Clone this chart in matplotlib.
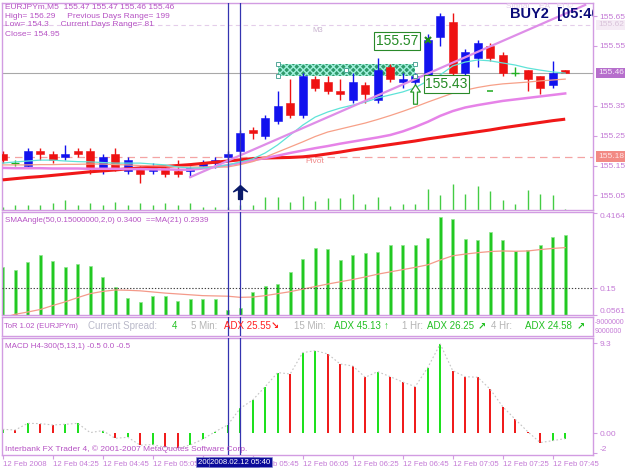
import matplotlib
matplotlib.use('Agg')
import matplotlib.pyplot as plt
from matplotlib.path import Path
from matplotlib.patches import Rectangle
import matplotlib.transforms as mtrans

W, H = 625, 469
plt.rcParams['font.family'] = ['Liberation Sans', 'DejaVu Sans']

# ---------------- data ----------------
bars = list(range(46))
opens = [155.19, 155.16, 155.15, 155.20, 155.19, 155.18, 155.20, 155.20, 155.14, 155.19,
         155.13, 155.14, 155.13, 155.14, 155.13, 155.13, 155.15, 155.16, 155.18, 155.20,
         155.27, 155.25, 155.30, 155.36, 155.32, 155.44, 155.43, 155.40, 155.37, 155.42,
         155.37, 155.48, 155.43, 155.43, 155.43, 155.58, 155.63, 155.46, 155.51, 155.55,
         155.52, 155.46, 155.47, 155.45, 155.42, 155.47]
highs = [155.20, 155.17, 155.21, 155.21, 155.20, 155.22, 155.21, 155.21, 155.19, 155.21,
         155.18, 155.15, 155.16, 155.15, 155.17, 155.15, 155.17, 155.18, 155.20, 155.27,
         155.28, 155.32, 155.40, 155.44, 155.46, 155.45, 155.45, 155.44, 155.46, 155.43,
         155.51, 155.49, 155.46, 155.46, 155.59, 155.66, 155.66, 155.54, 155.57, 155.56,
         155.53, 155.48, 155.47, 155.45, 155.50, 155.47]
lows = [155.16, 155.15, 155.14, 155.17, 155.16, 155.17, 155.18, 155.12, 155.12, 155.13,
        155.12, 155.09, 155.12, 155.11, 155.11, 155.11, 155.14, 155.14, 155.17, 155.19,
        155.24, 155.24, 155.29, 155.31, 155.31, 155.40, 155.39, 155.37, 155.36, 155.36,
        155.36, 155.43, 155.41, 155.42, 155.43, 155.55, 155.45, 155.45, 155.48, 155.50,
        155.45, 155.45, 155.40, 155.39, 155.41, 155.46]
closes = [155.17, 155.16, 155.20, 155.19, 155.17, 155.19, 155.19, 155.14, 155.18, 155.14,
          155.17, 155.12, 155.14, 155.12, 155.12, 155.14, 155.16, 155.17, 155.19, 155.26,
          155.26, 155.31, 155.35, 155.32, 155.45, 155.41, 155.40, 155.39, 155.43, 155.39,
          155.47, 155.44, 155.44, 155.45, 155.57, 155.65, 155.46, 155.53, 155.56, 155.51,
          155.46, 155.46, 155.44, 155.41, 155.46, 155.46]
volumes = [13, 20, 20, 20, 28, 40, 20, 28, 20, 33, 20, 28, 20, 28, 20, 28, 13, 13, 13, 20,
           20, 53, 53, 32, 56, 37, 47, 49, 64, 24, 52, 16, 24, 24, 85, 59, 103, 64, 96, 75,
           40, 24, 80, 63, 59, 3]
ma_fast = [155.158, 155.162, 155.165, 155.168, 155.168, 155.165, 155.163, 155.162, 155.160, 155.158,
           155.158, 155.158, 155.155, 155.152, 155.145, 155.142, 155.142, 155.145, 155.152, 155.162,
           155.172, 155.192, 155.219, 155.252, 155.285, 155.312, 155.329, 155.342, 155.352, 155.362,
           155.376, 155.386, 155.396, 155.410, 155.433, 155.453, 155.483, 155.496, 155.503, 155.500,
           155.493, 155.486, 155.476, 155.469, 155.463, 155.459]
ma_mid = [155.152, 155.152, 155.152, 155.153, 155.153, 155.154, 155.154, 155.155, 155.155, 155.153,
          155.152, 155.150, 155.149, 155.148, 155.146, 155.145, 155.145, 155.145, 155.145, 155.153,
          155.163, 155.178, 155.195, 155.212, 155.229, 155.247, 155.262, 155.272, 155.282, 155.292,
          155.304, 155.317, 155.331, 155.346, 155.362, 155.377, 155.392, 155.402, 155.411, 155.418,
          155.423, 155.426, 155.429, 155.433, 155.436, 155.439]
ma_slow = [155.142, 155.141, 155.141, 155.141, 155.140, 155.140, 155.140, 155.139, 155.139, 155.139,
           155.138, 155.138, 155.137, 155.137, 155.136, 155.136, 155.140, 155.145, 155.151, 155.158,
           155.167, 155.175, 155.183, 155.192, 155.200, 155.208, 155.215, 155.223, 155.230, 155.237,
           155.244, 155.252, 155.264, 155.279, 155.296, 155.316, 155.332, 155.344, 155.352, 155.359,
           155.366, 155.371, 155.376, 155.381, 155.386, 155.391]
ma_long = [155.102, 155.106, 155.110, 155.113, 155.117, 155.121, 155.125, 155.129, 155.132, 155.135,
           155.139, 155.142, 155.144, 155.147, 155.150, 155.153, 155.157, 155.161, 155.165, 155.169,
           155.173, 155.175, 155.176, 155.177, 155.179, 155.183, 155.189, 155.195, 155.202, 155.208,
           155.214, 155.220, 155.226, 155.232, 155.239, 155.245, 155.251, 155.257, 155.263, 155.269,
           155.276, 155.282, 155.288, 155.294, 155.300, 155.305]
trend_bars = [15, 46.6]
trend_prices = [155.111, 155.687]
pivot_price = 155.18
m3_price = 155.62
last_price = 155.46
rect_bars = [22, 33]
rect_prices = [155.45, 155.49]
label_hi_text, label_hi_bar, label_hi_price = "155.57", 34, 155.57
label_lo_text = "155.43"
buy_arrow_bar, buy_arrow_price = 19, 155.06
up_arrow_bar, up_arrow_price = 33, 155.39
dash_bar, dash_price = 39, 155.40

sma_angle = [0.2264, 0.2147, 0.2419, 0.2678, 0.2465, 0.2253, 0.2359, 0.2299, 0.1899, 0.1545,
             0.1146, 0.1025, 0.1238, 0.1227, 0.1050, 0.1121, 0.1110, 0.1110, 0.0732, 0.0792,
             0.1379, 0.1581, 0.1641, 0.2087, 0.2526, 0.2936, 0.2890, 0.2501, 0.2678, 0.2738,
             0.2773, 0.3021, 0.3021, 0.3021, 0.3269, 0.4012, 0.3940, 0.3244, 0.3209, 0.3492,
             0.3209, 0.2819, 0.2855, 0.3021, 0.3315, 0.3400]
sma_angle_ma = [0.045, 0.058, 0.066, 0.075, 0.089, 0.102, 0.117, 0.131, 0.139, 0.144,
                0.143, 0.141, 0.137, 0.133, 0.130, 0.127, 0.124, 0.123, 0.122, 0.118,
                0.119, 0.124, 0.131, 0.138, 0.147, 0.156, 0.165, 0.173, 0.181, 0.190,
                0.200, 0.208, 0.216, 0.224, 0.233, 0.250, 0.265, 0.271, 0.276, 0.280,
                0.282, 0.281, 0.282, 0.287, 0.291, 0.294]
sma_level = 0.15

macd_hist = [0.41, 0.34, 1.03, 1.00, 0.86, 0.93, 1.03, 0.07, 0.28, -0.52,
             -0.41, -1.22, -1.17, -1.45, -1.55, -1.20, -0.62, 0.17, 0.86, 2.58,
             3.44, 4.82, 6.27, 6.13, 8.33, 8.54, 8.20, 7.16, 6.96, 5.79,
             6.37, 5.85, 5.30, 4.82, 6.78, 9.23, 6.47, 5.85, 5.79, 4.55,
             2.75, 1.45, 0.17, -0.96, -0.76, -0.55]

price_ticks = [155.65, 155.55, 155.35, 155.25, 155.15, 155.05]
sma_ticks = [0.4164, 0.15, 0.0561]
sma_tick_labels = ["0.4164", "0.15", "0.0561"]
macd_ticks = [9.3, 0.0, -2]
macd_tick_labels = ["9.3", "0.00", "-2"]
time_tick_bars = [0, 4, 8, 12, 16, 20, 24, 28, 32, 36, 40, 44]
time_tick_labels = ["12 Feb 2008", "12 Feb 04:25", "12 Feb 04:45", "12 Feb 05:05",
                    "12 Feb 05:25", "12 Feb 05:45", "12 Feb 06:05", "12 Feb 06:25",
                    "12 Feb 06:45", "12 Feb 07:05", "12 Feb 07:25", "12 Feb 07:45"]
vline_bars = [18, 19]
vline_labels = ["2008.02.12 05:35", "2008.02.12 05:40"]

info_lines = ["EURJPYm,M5  155.47 155.47 155.46 155.46",
              "High= 156.29     Previous Days Range= 199",
              "Low= 154.3     Current Days Range= 81",
              "Close= 154.95"]

# ---------------- style ----------------
BORDER = '#d29ce2'
VIOLET_TXT = '#b652c4'
AXIS_TXT = '#c47ad6'
BLUE = '#1212ee'
RED = '#ee1212'
DOJI = '#22b022'
GREEN_BAR = '#22c822'
XMIN = -0.056
XMAX = XMIN + 591 / 12.5

fig = plt.figure(figsize=(W / 100, H / 100), dpi=100)
fig.patch.set_facecolor('white')


def px_axes(x0, y0, x1, y1):
    return fig.add_axes([x0 / W, 1 - y1 / H, (x1 - x0) / W, (y1 - y0) / H])


def style_axes(a):
    a.set_xlim(XMIN, XMAX)
    for s in a.spines.values():
        s.set_color(BORDER)
        s.set_linewidth(1.0)
    a.yaxis.tick_right()
    a.tick_params(axis='y', direction='out', length=3, width=0.8, color=BORDER,
                  labelcolor=AXIS_TXT, labelsize=6, pad=1.5)
    a.tick_params(axis='x', bottom=False, labelbottom=False)


def ftext(x, y, s, **kw):
    fig.text(x / W, 1 - y / H, s, va='center', ha='left', **kw)


# ---------------- main panel ----------------
ax_v = px_axes(2, 3, 593, 210)
ax_v.set_xlim(XMIN, XMAX)
ax_v.set_ylim(0, 828)
ax_v.axis('off')
ax_v.vlines(bars, 0, volumes, color='#44cc44', lw=1.0)

ax = px_axes(2, 3, 593, 210)
ax.set_facecolor('none')
style_axes(ax)
ax.set_ylim(155.0012, 155.6935)
ax.set_yticks(price_ticks)
ax.set_yticklabels([f"{p:.2f}" for p in price_ticks])

ax.axhline(m3_price, color='#e4cdea', lw=0.8, dashes=(4, 3), zorder=1)
ax.axhline(pivot_price, color='#f4a4a4', lw=0.9, dashes=(6, 4), zorder=1)
ax.axhline(last_price, color='#a8a8a8', lw=0.8, zorder=1)
ax.text(24.2, pivot_price - 0.016, "Pivot", color='#f08a8a', fontsize=6, va='center')
ax.text(24.8, m3_price - 0.02, "M3", color='#c8b2cf', fontsize=5.5, va='center')

# rectangle object
ax.add_patch(Rectangle((rect_bars[0], rect_prices[0]), rect_bars[1] - rect_bars[0],
                       rect_prices[1] - rect_prices[0], facecolor='#2f9a6a',
                       edgecolor='#9ff0dc', hatch='xxxxx', lw=0, zorder=2))
hx = [rect_bars[0], rect_bars[1], rect_bars[0], rect_bars[1], (rect_bars[0] + rect_bars[1]) / 2]
hy = [rect_prices[0], rect_prices[0], rect_prices[1], rect_prices[1], sum(rect_prices) / 2]
ax.plot(hx, hy, ls='none', marker='s', ms=2.5, mfc='white', mec='#3a9a8a', mew=0.6, zorder=6)

# candles
for i, o, h, l, c in zip(bars, opens, highs, lows, closes):
    col = BLUE if c > o else (RED if c < o else DOJI)
    ax.vlines(i, l, h, color=col, lw=1.0, zorder=3)
    if c != o:
        ax.bar(i, abs(c - o), bottom=min(o, c), width=0.62, color=col, edgecolor=col,
               lw=0.4, zorder=3)
    else:
        ax.hlines(o, i - 0.32, i + 0.32, color=col, lw=1.0, zorder=3)

ax.plot(bars, ma_long, color='#f01818', lw=2.2, zorder=4, solid_capstyle='butt')
ax.plot(bars, ma_slow, color='#e683e8', lw=1.8, zorder=4)
ax.plot(bars, ma_mid, color='#f7a088', lw=0.9, zorder=4)
ax.plot(bars, ma_fast, color='#5fe3d8', lw=0.9, zorder=4)
ax.plot(trend_bars, trend_prices, color='#de8ee8', lw=1.6, zorder=4)

# signal markers
up_path = Path([(0, 1), (0.5, 0.25), (0.2, 0.25), (0.2, -1), (-0.2, -1), (-0.2, 0.25),
                (-0.5, 0.25), (0, 1)], closed=True)
ax.plot([up_arrow_bar], [up_arrow_price], ls='none', marker=up_path, ms=14, mfc='white',
        mec='#2a9a2a', mew=0.9, zorder=6)
buy_path = Path([(0, 1), (1, 0.1), (0.28, 0.45), (0.28, -1), (-0.28, -1), (-0.28, 0.45),
                 (-1, 0.1), (0, 1)], closed=True)
ax.plot([buy_arrow_bar], [buy_arrow_price], ls='none', marker=buy_path, ms=10,
        mfc='#0a1a6a', mec='#0a1a6a', zorder=6)
ax.plot([label_hi_bar], [label_hi_price], ls='none', marker='x', ms=5, mew=1.6,
        color='#1f8a1f', zorder=7)
ax.plot([dash_bar], [dash_price], ls='none', marker='_', ms=4, mew=1.2, color='#30b030', zorder=6)

ax.text(label_hi_bar - 0.75, label_hi_price - 0.004, label_hi_text, ha='right', va='center',
        fontsize=10, color='#238a23', zorder=8,
        bbox=dict(boxstyle='square,pad=0.12', fc='white', ec='#2a8a2a', lw=0.8))
ax.text(label_hi_bar - 0.2, 155.423, label_lo_text, ha='left', va='center',
        fontsize=10, color='#238a23', zorder=8,
        bbox=dict(boxstyle='square,pad=0.12', fc='white', ec='#2a8a2a', lw=0.8))

ax.text(0.853, 0.985, "Signal    EA   El \u00a9", transform=ax.transAxes, fontsize=6,
        color='#e2cbea', va='center', clip_on=True)
ax.text(0.86, 0.947, "BUY2  [05:40]", transform=ax.transAxes, fontsize=10.5,
        fontweight='bold', color='#0a0a78', va='center', clip_on=True, zorder=9)

bt = mtrans.blended_transform_factory(ax.transAxes, ax.transData)
ax.text(1.0085, last_price, "155.46", transform=bt, fontsize=6, color='#f6ecf8', va='center',
        bbox=dict(boxstyle='square,pad=0.2', fc='#b66fcc', ec='none'))
ax.text(1.0085, pivot_price, "155.18", transform=bt, fontsize=6, color='#ffe4e4', va='center',
        bbox=dict(boxstyle='square,pad=0.2', fc='#f28a84', ec='none'))
ax.text(1.0085, m3_price, "155.62", transform=bt, fontsize=6, color='#d9c2da', va='center',
        bbox=dict(boxstyle='square,pad=0.2', fc='#f5ebf5', ec='none'))

for k, line in enumerate(info_lines):
    ftext(5, [7, 16, 25, 35][k], line, fontsize=6, color=VIOLET_TXT)

# ---------------- SMA angle panel ----------------
ax2 = px_axes(2, 212, 593, 315)
style_axes(ax2)
ax2.set_ylim(0.0555, 0.4199)
ax2.set_yticks(sma_ticks)
ax2.set_yticklabels(sma_tick_labels)
ax2.yaxis.get_major_ticks()[0].label2.set_verticalalignment('top')
ax2.yaxis.get_major_ticks()[2].label2.set_verticalalignment('bottom')
ax2.bar(bars, [v - 0.0555 for v in sma_angle], bottom=0.0555, width=0.24, color=GREEN_BAR,
        edgecolor='#8fe68f', lw=0.5, zorder=2)
ax2.plot(bars, sma_angle_ma, color='#f49a8a', lw=0.9, zorder=3)
ax2.axhline(sma_level, color='#404040', lw=0.8, dashes=(1.2, 1.6), zorder=4)
ftext(5, 220, "SMAAngle(50,0.15000000,2,0) 0.3400  ==MA(21) 0.2939", fontsize=5.8,
      color=VIOLET_TXT)

# ---------------- ToR panel ----------------
ax3 = px_axes(2, 317, 593, 336)
style_axes(ax3)
ax3.set_ylim(-1, 1)
ax3.set_yticks([])
ftext(595, 322, "-9000000", fontsize=5, color=AXIS_TXT)
ftext(595, 331, "9000000", fontsize=5, color=AXIS_TXT)
ftext(4, 326, "ToR 1.02 (EURJPYm)", fontsize=5.5, color=VIOLET_TXT)
tor_items = [(88, "Current Spread:", '#b9b9c9', 'normal'), (172, "4", '#22c022', 'normal'),
             (191, "5 Min:", '#b4b4b4', 'normal'), (224, "ADX 25.55", '#ff2020', 'normal'),
             (271, "\u2198", '#ff2020', 'bold'), (294, "15 Min:", '#b4b4b4', 'normal'),
             (334, "ADX 45.13", '#22c022', 'normal'), (384, "\u2191", '#22c022', 'bold'),
             (402, "1 Hr:", '#b4b4b4', 'normal'), (427, "ADX 26.25", '#22c022', 'normal'),
             (478, "\u2197", '#22c022', 'bold'), (491, "4 Hr:", '#b4b4b4', 'normal'),
             (525, "ADX 24.58", '#22c022', 'normal'), (577, "\u2197", '#22c022', 'bold')]
for x, s, c, wgt in tor_items:
    ftext(x, 326, s, fontsize=7, color=c, fontweight=wgt)

# ---------------- MACD panel ----------------
ax4 = px_axes(2, 338, 593, 455)
style_axes(ax4)
ax4.set_ylim(-2.242, 9.845)
ax4.set_yticks(macd_ticks)
ax4.set_yticklabels(macd_tick_labels)
ax4.yaxis.get_major_ticks()[2].label2.set_verticalalignment('bottom')
macd_cols = ['#1ee01e' if (k == 0 or v >= macd_hist[k - 1]) else '#f01c1c'
             for k, v in enumerate(macd_hist)]
ax4.bar(bars, macd_hist, width=0.19, color=macd_cols, lw=0, zorder=2)
ax4.plot(bars, macd_hist, color='#c4c4c4', lw=0.8, dashes=(1.5, 2), zorder=3)
ftext(5, 346, "MACD H4-300(5,13,1) -0.5 0.0 -0.5", fontsize=5.8, color=VIOLET_TXT)
ftext(5, 449, "Interbank FX Trader 4, \u00a9 2001-2007 MetaQuotes Software Corp.",
      fontsize=6, color=VIOLET_TXT)

ax4.tick_params(axis='x', bottom=True, labelbottom=True, direction='out', length=3,
                width=0.8, color=BORDER, labelcolor=AXIS_TXT, labelsize=5.6, pad=1.5)
ax4.set_xticks(time_tick_bars)
ax4.set_xticklabels(time_tick_labels, ha='left')

xb = mtrans.blended_transform_factory(ax4.transData, ax4.transAxes)
for b, s in zip(vline_bars, vline_labels):
    ax4.text(b, -0.062, s, transform=xb, ha='center', va='center', fontsize=5.6,
             color='white', zorder=10,
             bbox=dict(boxstyle='square,pad=0.18', fc='#0c0c9a', ec='#9090d0', lw=0.4))

# vertical lines across all panels
for a in (ax, ax2, ax3, ax4):
    for b in vline_bars:
        a.axvline(b, color='#3434b0', lw=0.9, zorder=5)

fig.savefig('out.png', dpi=100, facecolor='white')
